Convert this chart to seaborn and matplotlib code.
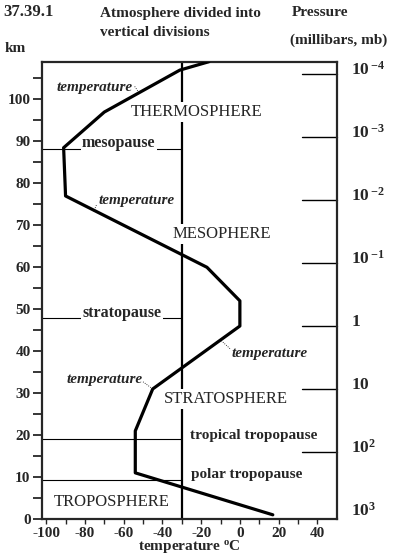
import matplotlib
matplotlib.use('Agg')
import matplotlib.pyplot as plt
import numpy as np
import pandas as pd
import seaborn as sns

# temperature profile (deg C vs km)
temp_c = [17, -54, -54, -45, 0, 0, -17, -90, -91, -70, -31, -16]
alt_km = [1, 11, 21, 31, 46, 52, 60, 77, 88.5, 97, 107, 109]

# layer names and where they are written
layer_names = ['THERMOSPHERE', 'MESOPHERE', 'STRATOSPHERE', 'TROPOSPHERE']
layer_temp = [-22.5, -9.5, -7, -66]
layer_alt = [97, 68, 28.7, 4]

# boundaries
pause_names = ['mesopause', 'stratopause', 'tropical tropopause', 'polar tropopause']
pause_alt = [88.3, 47.8, 19, 9.3]

# pressure scale on the right
pressure_labels = [r'$10\,^{-4}$', r'$10\,^{-3}$', r'$10\,^{-2}$', r'$10\,^{-1}$',
                   r'$1$', r'$10$', r'$10^{2}$', r'$10^{3}$']
pressure_alt = [106, 91, 76, 61, 46, 31, 16, 1]

# "temperature" callouts: text position, leader start, leader end
callout_text = [(-75, 102.8), (-53.5, 75.8), (15.5, 39.4), (-70, 33.3)]
callout_from = [(-54.3, 103.1), (-74.1, 74.8), (-5.1, 40.6), (-50, 32.7)]
callout_to = [(-51.8, 101.4), (-75.5, 73.3), (-9.8, 42.6), (-45, 31)]

sns.set_style('ticks')
plt.rcParams['font.family'] = ['Liberation Serif', 'DejaVu Serif']
plt.rcParams['mathtext.fontset'] = 'custom'
plt.rcParams['mathtext.rm'] = 'Liberation Serif:bold'
plt.rcParams['mathtext.bf'] = 'Liberation Serif:bold'
plt.rcParams['mathtext.it'] = 'Liberation Serif:bold:italic'

fig = plt.figure(figsize=(4, 5.6), dpi=100)
ax = fig.add_axes([0.1058, 0.0732, 0.736, 0.8166])

df = pd.DataFrame({'temperature': temp_c, 'altitude': alt_km})
sns.lineplot(data=df, x='temperature', y='altitude', sort=False, estimator=None,
             color='black', lw=2.3, ax=ax, zorder=4)

ax.axvline(-30, color='black', lw=1.6, zorder=1)

ax.set_xlim(-102, 50)
ax.set_ylim(0, 109)

for name, t, a in zip(layer_names, layer_temp, layer_alt):
    ax.text(t, a, name, ha='center', va='center', fontsize=12, zorder=3,
            bbox=dict(facecolor='white', edgecolor='none', pad=1.5))

# boundary lines, from left axis to the -30 line
for a in pause_alt:
    ax.plot([-102, -30], [a, a], color='black', lw=0.8, zorder=1)
ax.text(-62.5, pause_alt[0] + 1.3, pause_names[0], ha='center', va='center',
        fontsize=11.5, fontweight='bold', zorder=3,
        bbox=dict(facecolor='white', edgecolor='none', pad=1))
ax.text(-61, pause_alt[1] + 1.3, pause_names[1], ha='center', va='center',
        fontsize=11.5, fontweight='bold', zorder=3,
        bbox=dict(facecolor='white', edgecolor='none', pad=1))
ax.text(-26, pause_alt[2] + 1, pause_names[2], ha='left', va='center',
        fontsize=11, fontweight='bold')
ax.text(-25, pause_alt[3] + 1.2, pause_names[3], ha='left', va='center',
        fontsize=11, fontweight='bold')

# pressure marks
for lab, a in zip(pressure_labels, pressure_alt):
    if a > 5:
        ax.plot([32, 50], [a, a], color='black', lw=1, clip_on=False)
    ax.text(57.5, a + 1, lab, ha='left', va='center', fontsize=12.5, clip_on=False)

# temperature callouts
for (tx, ty), (fx, fy), (ex, ey) in zip(callout_text, callout_from, callout_to):
    ax.text(tx, ty, 'temperature', ha='center', va='center', fontsize=11,
            style='italic', fontweight='bold', zorder=3)
    ax.plot([fx, ex], [fy, ey], color='black', lw=0.6, ls=':', zorder=2)

# axes look
for s in ax.spines.values():
    s.set_linewidth(1.6)
    s.set_visible(True)
ax.set_xticks(np.arange(-100, 41, 20))
ax.set_xticks(np.arange(-90, 50, 20), minor=True)
ax.set_yticks(np.arange(0, 101, 10))
ax.set_yticks(np.arange(5, 106, 10), minor=True)
ax.tick_params(axis='y', which='both', length=6.5, width=1.3, pad=2,
               labelsize=11, direction='out')
ax.tick_params(axis='x', which='both', length=3.5, width=1, pad=2,
               labelsize=11, direction='out')
ax.set_xticklabels([str(v) for v in range(-100, 41, 20)])
for lab in ax.get_xticklabels() + ax.get_yticklabels():
    lab.set_fontweight('bold')
ax.set_xlabel(r'temperature $^{\mathrm{o}}$C', fontsize=11, fontweight='bold', labelpad=-1)
ax.set_ylabel('')

fig.text(0.008, 1 - 12 / 560, '37.39.1', fontsize=12, fontweight='bold', va='center')
fig.text(0.25, 1 - 13 / 560, 'Atmosphere divided into', fontsize=11,
         fontweight='bold', va='center')
fig.text(0.25, 1 - 33 / 560, 'vertical divisions', fontsize=11,
         fontweight='bold', va='center')
fig.text(0.73, 1 - 12 / 560, 'Pressure', fontsize=11, fontweight='bold', va='center')
fig.text(0.725, 1 - 40 / 560, '(millibars, mb)', fontsize=11, fontweight='bold', va='center')
fig.text(0.012, 1 - 48 / 560, 'km', fontsize=11, fontweight='bold', va='center')

fig.savefig('out.png', dpi=100)
